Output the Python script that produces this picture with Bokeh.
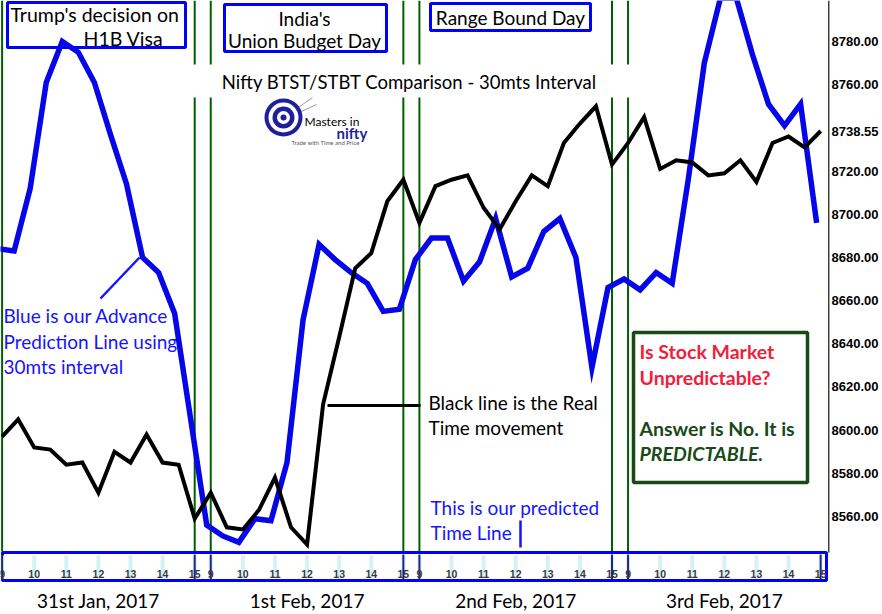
from bokeh.plotting import figure
from bokeh.models import Range1d, FixedTicker, NumeralTickFormatter
from bokeh.core.properties import value
from bokeh.embed import file_html
from bokeh.resources import INLINE

# ---------------- data (30-minute closes) ----------------
PREDICTED = [8684, 8683, 8712, 8761, 8780, 8775, 8761, 8737, 8714, 8680, 8673, 8654, 8605,
             8556, 8551, 8548, 8559, 8558, 8585, 8651, 8686, 8679, 8673, 8668, 8655, 8656,
             8679, 8689, 8689, 8669, 8678, 8698, 8671, 8675, 8692, 8698, 8680, 8629, 8666,
             8670, 8665, 8673, 8668, 8716, 8770, 8800, 8800, 8774, 8751, 8741, 8751, 8696]
REAL = [8597, 8605, 8592, 8591, 8584, 8585, 8571, 8590, 8585, 8598, 8585, 8584, 8559,
        8571, 8555, 8554, 8563, 8578, 8555, 8547, 8612, 8643, 8675, 8682, 8706, 8716,
        8696, 8713, 8716, 8718, 8703, 8693, 8706, 8718, 8713, 8733, 8742, 8750, 8723,
        8733, 8745, 8721, 8725, 8724, 8718, 8719, 8725, 8715, 8733, 8736, 8731, 8738.55]
LAST_PRICE = 8738.55
HOUR_LABELS = ["9", "10", "11", "12", "13", "14", "15"]
DAY_LABELS = ["31st Jan, 2017", "1st Feb, 2017", "2nd Feb, 2017", "3rd Feb, 2017"]
BARS_PER_DAY = 13
Y_TICKS = [8560, 8580, 8600, 8620, 8640, 8660, 8680, 8700, 8720, LAST_PRICE, 8760, 8780]
TITLE = "Nifty BTST/STBT Comparison - 30mts Interval"

# ---------------- geometry ----------------
W, H = 882, 614
FRAME_W = 829
PX_PER_BAR = 16.05
PX_PER_PT = 2.159
Y_TOP = 8799.0
X0 = -0.1
X1 = X0 + FRAME_W / PX_PER_BAR
Y0 = Y_TOP - H / PX_PER_PT
BLUE_SHIFT = -0.25


def X(px):
    return X0 + px / PX_PER_BAR


def Y(py):
    return Y_TOP - py / PX_PER_PT


BLUE = "#0606e8"
TXT_BLUE = "#1414ff"
GREEN = "#006000"
FONT = value("Lato")

p = figure(width=W, height=H, x_range=Range1d(X0, X1), y_range=Range1d(Y0, Y_TOP),
           output_backend="svg", toolbar_location=None, x_axis_location=None,
           y_axis_location="right", min_border_left=0, min_border_top=0,
           min_border_bottom=0, min_border_right=W - FRAME_W)
p.grid.visible = False
p.outline_line_color = None
p.background_fill_color = "white"
p.border_fill_color = "white"

ax = p.yaxis[0]
ax.ticker = FixedTicker(ticks=Y_TICKS)
ax.formatter = NumeralTickFormatter(format="0.00")
ax.major_label_text_font = "Liberation Sans"
ax.major_label_text_font_style = "bold"
ax.major_label_text_font_size = "13px"
ax.major_label_text_color = "black"
ax.major_label_standoff = 2
ax.major_tick_line_color = None
ax.minor_tick_line_color = None
ax.major_tick_out = 0
ax.major_tick_in = 0
ax.minor_tick_out = 0
ax.minor_tick_in = 0
ax.axis_line_color = None

# ---------------- day separators ----------------
sep = []
for d in range(4):
    sep.append(d * BARS_PER_DAY)
    if d < 3:
        sep.append(d * BARS_PER_DAY + BARS_PER_DAY - 1)
p.segment(x0=sep, x1=sep, y0=[Y_TOP] * len(sep), y1=[Y(551)] * len(sep),
          line_color=GREEN, line_width=2)

# title with white background
p.quad(left=[X(188)], right=[X(640)], top=[Y(64)], bottom=[Y(97)],
       fill_color="white", line_color=None)
p.text(x=[X(409)], y=[Y(81)], text=[TITLE], text_font=FONT, text_font_size="18.5px",
       text_color="black", text_align="center", text_baseline="middle")

# annotation boxes
p.quad(left=[X(7), X(224), X(430)], right=[X(185), X(386), X(590)],
       top=[Y(2), Y(4), Y(3)], bottom=[Y(47), Y(51), Y(30)],
       fill_color="white", line_color="#0000ff", line_width=3)
p.text(x=[X(10), X(83)], y=[Y(14), Y(38)], text=["Trump's decision on", "H1B Visa"],
       text_font=FONT, text_font_size="19.5px", text_color="black",
       text_align="left", text_baseline="middle")
p.text(x=[X(304), X(304)], y=[Y(18), Y(40)], text=["India's", "Union Budget Day"],
       text_font=FONT, text_font_size="19px", text_color="black",
       text_align="center", text_baseline="middle")
p.text(x=[X(510)], y=[Y(17)], text=["Range Bound Day"],
       text_font=FONT, text_font_size="19px", text_color="black",
       text_align="center", text_baseline="middle")

# logo
lx, ly = X(283), Y(117)
p.segment(x0=[X(288), X(290)], y0=[Y(114), Y(116)], x1=[X(312), X(316)], y1=[Y(97), Y(104)],
          line_color="#9a9a9a", line_width=1)
p.scatter(x=[lx] * 5, y=[ly] * 5, size=[38, 30, 22, 13, 6], marker="circle",
          fill_color=["#1f1f9c", "white", "#1f1f9c", "white", "#1f1f9c"], line_color=None)
p.text(x=[X(304)], y=[Y(121)], text=["Masters in"], text_font=FONT, text_font_size="12px",
       text_color="black", text_align="left", text_baseline="middle")
p.text(x=[X(336)], y=[Y(132)], text=["nifty"], text_font=FONT, text_font_size="15px",
       text_font_style="bold", text_color="#1f1f9c", text_align="left", text_baseline="middle")
p.text(x=[X(291)], y=[Y(142)], text=["Trade with Time and Price"], text_font=FONT,
       text_font_size="6px", text_color="#555555", text_align="left", text_baseline="middle")

# blue explanation text
p.text(x=[X(3)] * 3, y=[Y(315), Y(341), Y(366)],
       text=["Blue is our Advance", "Prediction Line using", "30mts interval"],
       text_font=FONT, text_font_size="19px", text_color=TXT_BLUE,
       text_align="left", text_baseline="middle")
p.segment(x0=[X(100)], y0=[Y(298)], x1=[X(139)], y1=[Y(257)], line_color=TXT_BLUE, line_width=2.5)

# black explanation text
p.text(x=[X(428)] * 2, y=[Y(402), Y(427)], text=["Black line is the Real", "Time movement"],
       text_font=FONT, text_font_size="19px", text_color="black",
       text_align="left", text_baseline="middle")
p.segment(x0=[X(327)], y0=[Y(405)], x1=[X(420)], y1=[Y(405)], line_color="black", line_width=3)

# predicted time line text
p.text(x=[X(430)] * 2, y=[Y(507), Y(532)], text=["This is our predicted", "Time Line"],
       text_font=FONT, text_font_size="19px", text_color=TXT_BLUE,
       text_align="left", text_baseline="middle")
p.segment(x0=[X(520)], y0=[Y(520)], x1=[X(520)], y1=[Y(547)], line_color=TXT_BLUE, line_width=2.5)

# question box
p.quad(left=[X(633)], right=[X(807)], top=[Y(332)], bottom=[Y(482)],
       fill_color="white", line_color="#174a17", line_width=3.5)
p.text(x=[X(639)] * 2, y=[Y(351), Y(377)], text=["Is Stock Market", "Unpredictable?"],
       text_font=FONT, text_font_size="19.5px", text_font_style="bold", text_color="#f0203c",
       text_align="left", text_baseline="middle")
p.text(x=[X(639)], y=[Y(428)], text=["Answer is No. It is"],
       text_font=FONT, text_font_size="19.5px", text_font_style="bold", text_color="#174a17",
       text_align="left", text_baseline="middle")
p.text(x=[X(639)], y=[Y(453)], text=["PREDICTABLE."],
       text_font=FONT, text_font_size="19.5px", text_font_style="bold italic", text_color="#174a17",
       text_align="left", text_baseline="middle")

# ---------------- data lines ----------------
xs = list(range(len(REAL)))
p.line(x=[i + BLUE_SHIFT for i in range(len(PREDICTED))], y=PREDICTED,
       line_color=BLUE, line_width=5.5, line_join="miter")
p.line(x=xs, y=REAL, line_color="black", line_width=4, line_join="miter")

# ---------------- time band ----------------
p.quad(left=[X(2)], right=[X(826)], top=[Y(552)], bottom=[Y(580)],
       fill_color="white", line_color="#0000ff", line_width=3)
hx, hl = [], []
for d in range(4):
    for k, lab in enumerate(HOUR_LABELS):
        hx.append(d * BARS_PER_DAY + 2 * k)
        hl.append(lab)
p.segment(x0=hx, x1=hx, y0=[Y(555)] * len(hx), y1=[Y(578)] * len(hx),
          line_color="#d6f1f4", line_width=4)
dsep = sep + [len(REAL) - 1]
p.segment(x0=dsep, x1=dsep, y0=[Y(554)] * len(dsep), y1=[Y(579)] * len(dsep),
          line_color="#24248a", line_width=2)
p.text(x=hx, y=[Y(573)] * len(hx), text=hl, text_font=value("Liberation Sans"),
       text_font_size="10.5px", text_font_style="bold", text_color="#3a3a3a",
       text_align="center", text_baseline="middle")
p.text(x=[d * BARS_PER_DAY + 6 for d in range(4)], y=[Y(600)] * 4, text=DAY_LABELS,
       text_font=FONT, text_font_size="19px", text_color="black",
       text_align="center", text_baseline="middle")

# right frame line
p.segment(x0=[X(828.5)], x1=[X(828.5)], y0=[Y_TOP], y1=[Y(552)], line_color="black", line_width=1.5)

open("out.html", "w").write(file_html(p, INLINE))
